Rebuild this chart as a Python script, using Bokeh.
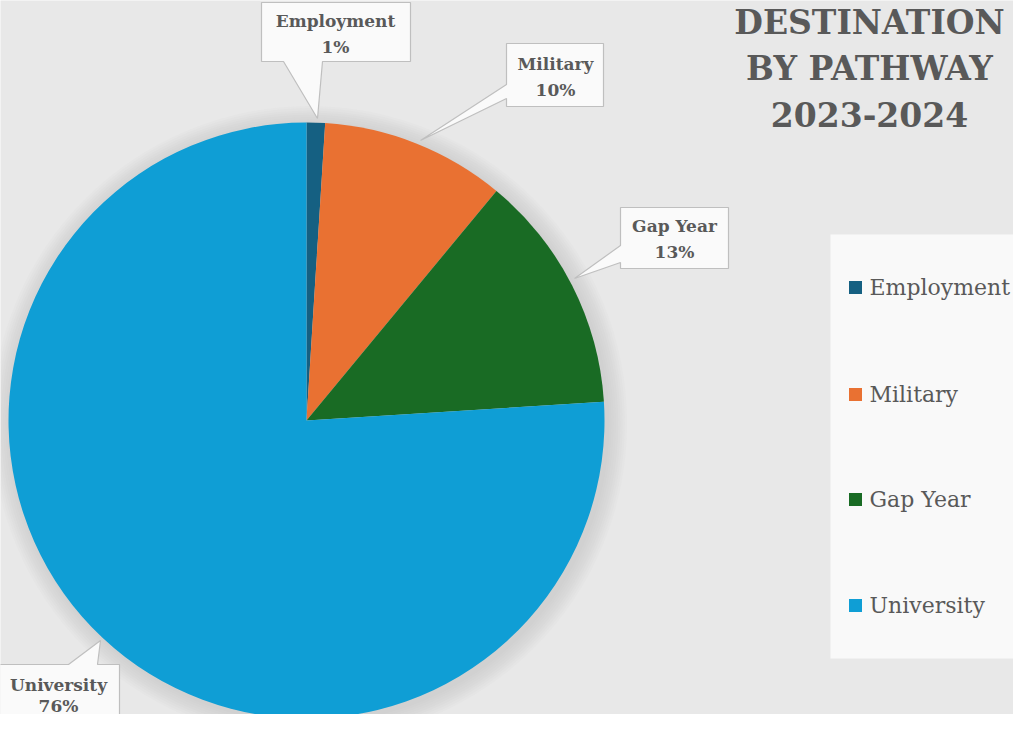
import numpy as np
from bokeh.plotting import figure
from bokeh.models import Range1d
from bokeh.embed import file_html
from bokeh.resources import INLINE
from bokeh.core.properties import value

categories = ["Employment", "Military", "Gap Year", "University"]
shares = [1, 10, 13, 76]
colors = ["#156082", "#E97132", "#196B24", "#0F9ED5"]
title_lines = ["DESTINATION", "BY PATHWAY", "2023-2024"]

W, H = 1013, 714
PAGE_H = 730


def Y(r):
    return PAGE_H - np.asarray(r, dtype=float)


p = figure(width=W, height=H, output_backend="svg", toolbar_location=None,
           x_range=Range1d(0, W), y_range=Range1d(PAGE_H - H, PAGE_H),
           min_border=0, outline_line_color=None,
           background_fill_color="#e8e8e8", border_fill_color="#e8e8e8",
           x_axis_type=None, y_axis_type=None)
p.xgrid.visible = False
p.ygrid.visible = False

TXT = "#595959"
SERIF = value("DejaVu Serif")

# pie geometry
cx, cy, R = 306, float(Y(420)), 298

# soft shadow
for k in range(9):
    p.circle(x=cx + 3, y=cy - 3, radius=R + 2 + k * 2.2, fill_color="#9a9a9a",
             fill_alpha=0.028, line_color=None)

frac = np.array(shares, dtype=float) / sum(shares)
cum = np.concatenate([[0.0], np.cumsum(frac)])
start = np.pi / 2 - 2 * np.pi * cum[:-1]
end = np.pi / 2 - 2 * np.pi * cum[1:]
p.wedge(x=cx, y=cy, radius=R, start_angle=start, end_angle=end,
        direction="clock", fill_color=colors, line_color=None)

# callout boxes (box + pointer)
callouts = [
    ([261, 283, 317, 322, 410, 410, 261], [61, 61, 118, 61, 61, 2, 2]),
    ([506, 506, 420, 506, 506, 603, 603], [43, 84, 140, 98, 106, 106, 43]),
    ([620, 620, 574, 620, 620, 728, 728], [207, 245, 278, 262, 268, 268, 207]),
    ([-5, 68, 100, 97, 119, 119, -5], [664, 664, 640, 664, 664, 740, 740]),
]
p.patches(xs=[c[0] for c in callouts], ys=[list(Y(c[1])) for c in callouts],
          fill_color="#fafafa", line_color="#bfbfbf", line_width=1.2)

label_x = [335, 555, 674, 58]
name_mid = [20, 63, 225, 684]
pct_mid = [46, 89, 251, 705]
p.text(x=label_x, y=Y(name_mid), text=categories, text_align="center",
       text_baseline="middle", text_font=SERIF, text_font_style="bold",
       text_font_size="17px", text_color=TXT)
p.text(x=label_x, y=Y(pct_mid), text=[f"{s}%" for s in shares],
       text_align="center", text_baseline="middle", text_font=SERIF,
       text_font_style="bold", text_font_size="17px", text_color=TXT)

# title
p.text(x=[869] * 3, y=Y([22, 68, 114]), text=title_lines, text_align="center",
       text_baseline="middle", text_font=SERIF, text_font_style="bold",
       text_font_size="33px", text_color=TXT)

# legend
p.quad(left=830, right=1040, top=float(Y(234)), bottom=float(Y(658)),
       fill_color="#f9f9f9", line_color=None)
leg_sq = [287, 394, 499, 605]
p.scatter(x=855, y=Y(leg_sq), marker="square", size=13, fill_color=colors,
          line_color=None)
p.text(x=869, y=Y(leg_sq), text=categories, text_align="left",
       text_baseline="middle", text_font=SERIF, text_font_size="22px",
       text_color=TXT)

open("out.html", "w").write(file_html(p, INLINE))
